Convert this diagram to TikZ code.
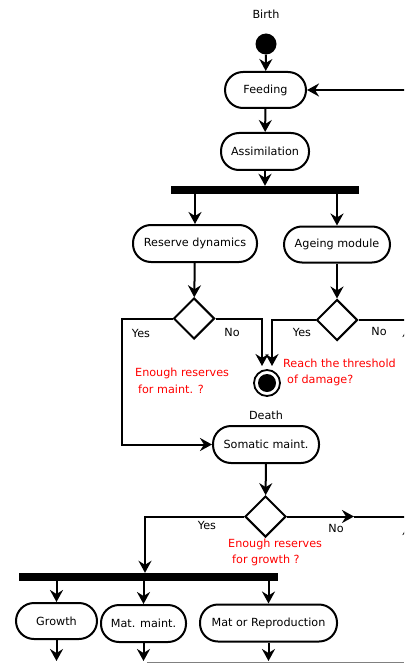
\documentclass[tikz,border=0pt]{standalone}
\usepackage{fontspec}
\setmainfont{DejaVu Sans}
\usetikzlibrary{shapes.geometric,arrows.meta}

\tikzset{
  txt/.style={font=\fontsize{11.2}{13}\selectfont},
  flow/.style={line width=2pt, -{Stealth[length=12pt,width=13pt,inset=4pt]}},
  plain/.style={line width=2pt},
  act/.style={draw, line width=2pt, rectangle, rounded corners=18pt,
              minimum height=#1, inner sep=0pt, txt},
  act/.default=36pt,
  choice/.style={draw, line width=2pt, diamond, minimum width=41pt,
                 minimum height=41pt, inner sep=0pt},
  bar/.style={fill=black, draw=none, rectangle, inner sep=0pt},
  lbl/.style={txt, inner sep=0pt},
  note/.style={txt, text=red, inner sep=0pt, anchor=west},
}

\begin{document}
\begin{tikzpicture}[x=1pt, y=-1pt]
\clip (0,0) rectangle (404,663);
\fill[white] (0,0) rectangle (404,663);

% initial and final states
\node[lbl] (birthtxt) at (266,14) {Birth};
\node[circle, fill=black, minimum size=21pt, inner sep=0pt] (start) at (266,44) {};
\node[circle, draw, line width=1.8pt, minimum size=26pt, inner sep=0pt] (death) at (267,383) {};
\fill (death.center) circle (9pt);
\node[lbl] (deathtxt) at (266,415) {Death};

% activities
\node[act, minimum width=81pt] (feeding) at (265.5,90) {Feeding};
\node[act=37pt, minimum width=88pt] (assim) at (265,151.5) {Assimilation};
\node[bar, minimum width=188pt, minimum height=8pt] (fork1) at (265,190) {};
\node[act=37pt, minimum width=124pt] (reserve) at (195,243.5) {Reserve dynamics};
\node[act, minimum width=106pt] (ageing) at (337,244.5) {Ageing module};
\node[choice] (d1) at (194,318.5) {};
\node[choice] (d2) at (337,320) {};
\node[act=37pt, minimum width=106pt] (somatic) at (266,444.5) {Somatic maint.};
\node[choice] (d3) at (265.5,516.5) {};
\node[bar, minimum width=259pt, minimum height=8pt] (fork2) at (148.5,577) {};
\node[act, minimum width=81pt] (growth) at (56.5,621) {Growth};
\node[act=37pt, minimum width=85pt] (matm) at (143.5,623.5) {Mat. maint.};
\node[act=37pt, minimum width=137pt] (matrep) at (268.5,623) {Mat or Reproduction};

% guard labels
\node[lbl] (yes1) at (141,333) {Yes};
\node[lbl] (no1) at (232,332) {No};
\node[lbl] (yes2) at (302,332) {Yes};
\node[lbl] (no2) at (379,331) {No};
\node[lbl] (yes3) at (207,525) {Yes};
\node[lbl] (no3) at (336,528) {No};

% conditions
\node[note] (c1a) at (135,373) {Enough reserves};
\node[note] (c1b) at (138,389) {for maint. ?};
\node[note] (c2a) at (283,363) {Reach the threshold};
\node[note] (c2b) at (287,380) {of damage?};
\node[note] (c3a) at (228,544) {Enough reserves};
\node[note] (c3b) at (232,560) {for growth ?};

% helper points for bends and open ends
\coordinate (loopin) at (412,90);
\coordinate (yesbend) at (122,444.5);
\coordinate (nobend1) at (262,318.5);
\coordinate (deathin1) at (262,366);
\coordinate (yesbend2) at (272,320);
\coordinate (deathin2) at (272,366);
\coordinate (agexit) at (412,320);
\coordinate (gbend) at (145,516.5);
\coordinate (gno) at (354,516.5);
\coordinate (gexit) at (412,516.5);
\coordinate (up1s) at (409,350);
\coordinate (up1) at (409,325);
\coordinate (up2s) at (409,548);
\coordinate (up2) at (409,523);
\coordinate (gout) at (56.5,661);
\coordinate (mout) at (143.5,661);
\coordinate (rout) at (268.5,661);

% main flow
\draw[flow] (start) -- (feeding);
\draw[flow] (loopin) -- (feeding.east);
\draw[flow] (feeding) -- (assim);
\draw[flow] (assim.south) -- (assim.south |- fork1.north);
\draw[flow] (fork1.south -| reserve.north) -- (reserve.north);
\draw[flow] (fork1.south -| ageing.north) -- (ageing.north);
\draw[flow] (reserve) -- (d1);
\draw[flow] (ageing) -- (d2);

% branches of the two checks
\draw[flow] (d1.west) -| (yesbend) -- (somatic.west);
\draw[flow] (d1.east) -- (nobend1) -- (deathin1);
\draw[flow] (d2.west) -- (yesbend2) -- (deathin2);
\draw[plain] (d2.east) -- (agexit);
\draw[flow] (up1s) -- (up1);

% growth check
\draw[flow] (somatic) -- (d3);
\draw[flow] (d3.west) -| (gbend |- fork2.north);
\draw[flow] (d3.east) -- (gno);
\draw[plain] (gno) -- (gexit);
\draw[flow] (up2s) -- (up2);

% second fork
\draw[flow] (fork2.south -| growth.north) -- (growth.north);
\draw[flow] (fork2.south -| matm.north) -- (matm.north);
\draw[flow] (fork2.south -| matrep.north) -- (matrep.north);
\draw[flow] (growth) -- (gout);
\draw[flow] (matm) -- (mout);
\draw[flow] (matrep) -- (rout);
\draw[gray, line width=0.8pt] (147,662.6) -- (404,662.6);
\end{tikzpicture}
\end{document}
